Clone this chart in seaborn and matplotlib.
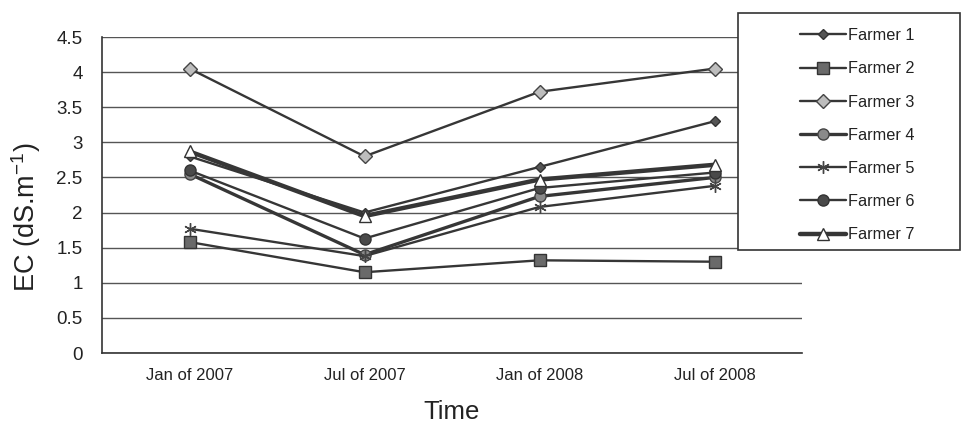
import matplotlib
matplotlib.use("Agg")
import matplotlib.pyplot as plt
from matplotlib.patches import Rectangle
from matplotlib.ticker import MultipleLocator, FixedLocator
import seaborn as sns
import pandas as pd

# Sampling dates and EC readings (dS/m) for each farmer
dates = ["Jan of 2007", "Jul of 2007", "Jan of 2008", "Jul of 2008"]
farmer_1 = [2.80, 2.00, 2.65, 3.30]
farmer_2 = [1.58, 1.15, 1.32, 1.30]
farmer_3 = [4.05, 2.80, 3.72, 4.05]
farmer_4 = [2.55, 1.40, 2.23, 2.50]
farmer_5 = [1.77, 1.38, 2.08, 2.38]
farmer_6 = [2.60, 1.63, 2.35, 2.57]
farmer_7 = [2.87, 1.95, 2.47, 2.68]

names = ["Farmer 1", "Farmer 2", "Farmer 3", "Farmer 4", "Farmer 5", "Farmer 6", "Farmer 7"]
series = [farmer_1, farmer_2, farmer_3, farmer_4, farmer_5, farmer_6, farmer_7]

frames = []
for name, vals in zip(names, series):
    frames.append(pd.DataFrame({"Time": dates, "EC": vals, "Farmer": name}))
df = pd.concat(frames, ignore_index=True)

sns.set_theme(style="white")
plt.rcParams["font.family"] = ["Liberation Sans", "DejaVu Sans"]
plt.rcParams["mathtext.fontset"] = "custom"
plt.rcParams["mathtext.rm"] = "Liberation Sans"
plt.rcParams["mathtext.default"] = "regular"

line_col = "#363636"
styles = {
    "Farmer 1": dict(marker="D", ms=5, mfc="#555555", mec="#333333", lw=1.7),
    "Farmer 2": dict(marker="s", ms=8, mfc="#6a6a6a", mec="#333333", lw=1.7),
    "Farmer 3": dict(marker="D", ms=7, mfc="#bdbdbd", mec="#444444", lw=1.7),
    "Farmer 4": dict(marker="o", ms=8, mfc="#8a8a8a", mec="#444444", lw=2.4),
    "Farmer 5": dict(marker=(6, 2, 0), ms=9, mfc="#444444", mec="#444444", lw=1.7),
    "Farmer 6": dict(marker="o", ms=8, mfc="#4a4a4a", mec="#333333", lw=1.7),
    "Farmer 7": dict(marker="^", ms=8, mfc="white", mec="#333333", lw=3.2),
}

fig = plt.figure(figsize=(9.69, 4.24), dpi=100)
ax = fig.add_axes([102 / 969, 1 - 353 / 424, 700 / 969, 316 / 424])

for name in names:
    st = styles[name]
    sub = df[df["Farmer"] == name]
    sns.lineplot(data=sub, x="Time", y="EC", ax=ax, color=line_col,
                 linewidth=st["lw"], marker=st["marker"], markersize=st["ms"],
                 markerfacecolor=st["mfc"], markeredgecolor=st["mec"],
                 markeredgewidth=1.0, label=name, sort=False, zorder=3)

ax.set_xlim(-0.5, len(dates) - 0.5)
ax.set_ylim(0, 4.5)
ax.yaxis.set_major_locator(MultipleLocator(0.5))
ax.set_yticklabels([f"{v:g}" for v in ax.get_yticks()])
ax.set_xticks(range(len(dates)))
ax.set_xticklabels(dates, fontsize=12, color="#222222")
ax.xaxis.set_minor_locator(FixedLocator([i - 0.5 for i in range(len(dates) + 1)]))
ax.tick_params(axis="x", which="major", length=0, pad=11)
ax.tick_params(axis="x", which="minor", length=5, width=1, color="#333333", direction="out")
ax.tick_params(axis="y", length=5, width=1, color="#333333", direction="out",
               labelsize=13.5, labelcolor="#222222", pad=9)

ax.grid(axis="y", color="#555555", linewidth=1.0)
ax.grid(axis="x", visible=False)
ax.set_axisbelow(True)
for side in ["top", "right"]:
    ax.spines[side].set_visible(False)
for side in ["left", "bottom"]:
    ax.spines[side].set_color("#333333")
    ax.spines[side].set_linewidth(1.2)

ax.set_xlabel("Time", fontsize=18.5, color="#222222", labelpad=12)
ax.set_ylabel("EC (dS.m$^{-1}$)", fontsize=19.5, color="#222222")
ax.yaxis.set_label_coords(-0.084, 0.43)

handles, labels = ax.get_legend_handles_labels()
ax.get_legend().remove()

# Legend box with its entries
box = Rectangle((738 / 969, 1 - 250 / 424), 222 / 969, 237 / 424,
                transform=fig.transFigure, facecolor="white",
                edgecolor="#333333", linewidth=1.2, zorder=2)
fig.patches.append(box)
leg = fig.legend(handles, labels, loc="upper left",
                 bbox_to_anchor=(792 / 969, 1 - 20 / 424),
                 frameon=False, fontsize=11.7, handlelength=2.8,
                 handletextpad=0.15, labelspacing=1.12, borderpad=0)
leg.set_zorder(5)
for t in leg.get_texts():
    t.set_color("#222222")

fig.savefig("out.png", dpi=100, facecolor="white")
